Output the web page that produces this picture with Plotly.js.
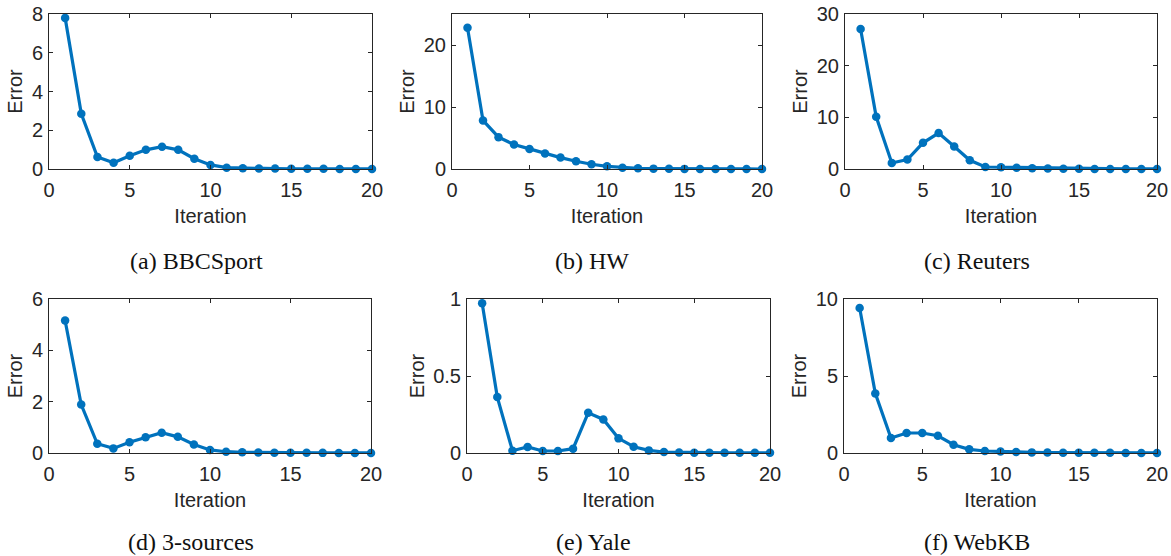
<!DOCTYPE html>
<html>
<head>
<meta charset="utf-8">
<script src="https://cdn.plot.ly/plotly-3.0.1.min.js"></script>
<style>html,body{margin:0;padding:0;background:#fff;} #chart{width:1171px;height:556px;}</style>
</head>
<body>
<div id="chart"></div>
<script>
const iterations = [1,2,3,4,5,6,7,8,9,10,11,12,13,14,15,16,17,18,19,20];
const bbcsport = [7.8,2.85,0.62,0.32,0.68,0.99,1.15,0.99,0.53,0.21,0.07,0.04,0.03,0.02,0.01,0.01,0.01,0.005,0.003,0.002];
const hw = [22.8,7.84,5.14,3.95,3.24,2.49,1.84,1.24,0.76,0.43,0.22,0.11,0.06,0.03,0.02,0.01,0.01,0.01,0.005,0.003];
const reuters = [27.1,10.1,1.17,1.82,5.06,6.95,4.35,1.69,0.39,0.35,0.26,0.15,0.08,0.05,0.03,0.02,0.01,0.01,0.01,0.005];
const threeSources = [5.16,1.89,0.36,0.18,0.42,0.61,0.79,0.63,0.33,0.12,0.05,0.03,0.02,0.01,0.01,0.01,0.005,0.003,0.002,0.002];
const yale = [0.972,0.363,0.015,0.039,0.013,0.013,0.028,0.261,0.218,0.095,0.041,0.017,0.006,0.003,0.002,0.002,0.001,0.001,0.001,0.001];
const webkb = [9.42,3.87,0.97,1.30,1.30,1.12,0.54,0.24,0.13,0.09,0.06,0.04,0.03,0.02,0.01,0.01,0.01,0.005,0.003,0.002];

const captions = ["(a) BBCSport","(b) HW","(c) Reuters","(d) 3-sources","(e) Yale","(f) WebKB"];
const series = [bbcsport, hw, reuters, threeSources, yale, webkb];
const yRanges = [[0,8],[0,25],[0,30],[0,6],[0,1],[0,10]];
const yDtick = [2,10,10,2,0.5,5];
const xTickVals = [0,5,10,15,20];

const W = 1171, H = 556;
// pixel boxes [left, right, top, bottom]
const boxes = [
  [49,372,14,169],[452,762,14,169],[845,1157,14,169],
  [49,371,299,453],[467,770,299,453],[844,1157,299,453]
];
const captionX = [196,592,977,191,593,977];
const captionY = [261,261,261,542,542,542];

const axisColor = '#262626';
const tickFont = {family:'Liberation Sans, Arial, sans-serif', size:20, color:axisColor};
const data = [];
const layout = {
  width:W, height:H, margin:{l:0,r:0,t:0,b:0},
  paper_bgcolor:'#fff', plot_bgcolor:'#fff', showlegend:false,
  annotations:[]
};
series.forEach((ys,i)=>{
  const n = i+1;
  const xa = n===1?'x':'x'+n, ya = n===1?'y':'y'+n;
  data.push({
    x: iterations, y: ys, xaxis: xa, yaxis: ya, type:'scatter', mode:'lines+markers',
    line:{color:'#0072BD', width:3.2}, marker:{color:'#0072BD', size:8.5}, cliponaxis:false
  });
  const b = boxes[i];
  const common = {
    showline:true, linecolor:axisColor, linewidth:1, mirror:'ticks', ticks:'inside',
    ticklen:4, tickcolor:axisColor, tickwidth:1, showgrid:false, zeroline:false,
    tickfont:tickFont, fixedrange:true
  };
  layout[n===1?'xaxis':'xaxis'+n] = Object.assign({}, common, {
    domain:[b[0]/W, b[1]/W], range:[0,20], tickvals:xTickVals, anchor:ya,
    ticklabelstandoff:3,
    title:{text:'Iteration', font:tickFont, standoff:8}
  });
  layout[n===1?'yaxis':'yaxis'+n] = Object.assign({}, common, {
    domain:[1-b[3]/H, 1-b[2]/H], range:yRanges[i], dtick:yDtick[i], tick0:0, anchor:xa,
    ticklabelstandoff:1,
    title:{text:'Error', font:tickFont, standoff:3}
  });
  layout.annotations.push({
    text:captions[i], xref:'paper', yref:'paper', x:captionX[i]/W, y:1-captionY[i]/H,
    xanchor:'center', yanchor:'middle', showarrow:false,
    font:{family:'Liberation Serif, Times New Roman, serif', size:24, color:'#111'}
  });
});
Plotly.newPlot('chart', data, layout, {displayModeBar:false, staticPlot:true});
</script>
</body>
</html>
